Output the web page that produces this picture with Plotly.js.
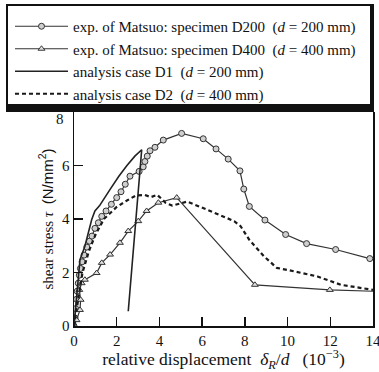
<!DOCTYPE html>
<html><head><meta charset="utf-8">
<script src="https://cdn.plot.ly/plotly-3.0.1.min.js"></script>
<style>html,body{margin:0;padding:0;background:#fff}#c{width:379px;height:372px}</style>
</head><body><div id="c"></div>
<script>
// exp. of Matsuo: specimen D200
const d200X = [0, 0.05, 0.08, 0.12, 0.15, 0.2, 0.25, 0.3, 0.38, 0.47, 0.6, 0.72, 0.84, 0.98, 1.14, 1.3, 1.5, 1.75, 2.0, 2.2, 2.4, 2.62, 3.05, 3.24, 3.32, 3.43, 3.56, 3.79, 4.18, 5.04, 6.05, 6.65, 7.22, 7.77, 7.95, 8.21, 8.94, 9.91, 10.89, 12.25, 13.85];
const d200Y = [0, 0.3, 0.65, 1.0, 1.3, 1.6, 1.9, 2.15, 2.4, 2.65, 2.95, 3.17, 3.36, 3.65, 3.86, 4.1, 4.3, 4.55, 4.8, 5.02, 5.3, 5.6, 5.78, 5.95, 6.15, 6.35, 6.55, 6.68, 6.95, 7.2, 7.0, 6.62, 6.24, 5.8, 5.12, 4.47, 3.96, 3.42, 3.08, 2.86, 2.52];
// exp. of Matsuo: specimen D400
const d400X = [0, 0.12, 0.28, 0.31, 0.25, 0.36, 0.51, 1.06, 1.3, 1.69, 2.15, 2.54, 3.01, 3.4, 3.95, 4.81, 8.47, 11.98, 14];
const d400Y = [0, 0.22, 0.6, 0.98, 1.35, 1.6, 1.73, 1.98, 2.36, 2.67, 3.11, 3.55, 3.92, 4.3, 4.61, 4.8, 1.54, 1.35, 1.3];
// analysis case D1
const d1X = [0, 0.1, 0.2, 0.28, 0.51, 0.83, 0.98, 1.2, 1.69, 2.1, 2.47, 2.85, 3.17, 2.54];
const d1Y = [0, 1.0, 1.9, 2.48, 2.98, 3.98, 4.3, 4.5, 5.11, 5.6, 5.99, 6.35, 6.59, 0.55];
// analysis case D2
const d2X = [0, 0.2, 0.4, 0.7, 1.0, 1.4, 2.0, 2.5, 2.9, 3.3, 3.6, 3.9, 4.3, 4.6, 5.3, 6.2, 6.8, 7.5, 7.8, 8.2, 8.9, 9.5, 10.1, 11.4, 12.5, 14];
const d2Y = [0, 1.0, 2.0, 2.8, 3.4, 4.0, 4.45, 4.7, 4.88, 4.9, 4.82, 4.9, 4.6, 4.5, 4.65, 4.36, 4.17, 3.92, 3.73, 3.23, 2.6, 2.17, 2.08, 1.85, 1.54, 1.35];

const names = [
  'exp. of Matsuo: specimen D200\u00a0\u00a0(<i>d</i> = 200 mm)',
  'exp. of Matsuo: specimen D400\u00a0\u00a0(<i>d</i> = 400 mm)',
  'analysis case D1\u00a0\u00a0(<i>d</i> = 200 mm)',
  'analysis case D2\u00a0\u00a0(<i>d</i> = 400 mm)'
];
const xTicks = [0, 2, 4, 6, 8, 10, 12, 14];
const yTicks = [0, 2, 4, 6, 8];

const W = 379, H = 372, ML = 74, MR = 6, MT = 112, MB = 46;
const PW = W - ML - MR, PH = H - MT - MB;
const px2x = p => (p - ML) / PW;
const px2y = p => (H - MB - p) / PH;

const lineCol = '#333';
const serif = 'Liberation Serif, Times New Roman, serif';
const topTick = yTicks[yTicks.length - 1];

const traces = [
  {x: d200X, y: d200Y, name: names[0], mode: 'lines+markers',
   line: {color: lineCol, width: 1.2},
   marker: {symbol: 'circle', size: 6, color: '#cfcfcf', line: {color: '#333', width: 1}}},
  {x: d400X, y: d400Y, name: names[1], mode: 'lines+markers',
   line: {color: lineCol, width: 1.2},
   marker: {symbol: 'triangle-up', size: 6, color: '#e0e0e0', line: {color: '#333', width: 1},
            opacity: d400X.map((v, i) => i === d400X.length - 1 ? 0 : 1)}},
  {x: d1X, y: d1Y, name: names[2], mode: 'lines',
   line: {color: '#222', width: 1.6}},
  {x: d2X, y: d2Y, name: names[3], mode: 'lines',
   line: {color: '#1a1a1a', width: 2.2, dash: '4px,3px'}}
];

const layout = {
  width: W, height: H,
  margin: {l: ML, r: MR, t: MT, b: MB, pad: 0},
  paper_bgcolor: '#fff', plot_bgcolor: '#fff',
  font: {family: serif, size: 14, color: '#111'},
  showlegend: true,
  legend: {x: px2x(10), y: px2y(10), xanchor: 'left', yanchor: 'top',
           bgcolor: 'rgba(0,0,0,0)', borderwidth: 0, itemwidth: 53,
           traceorder: 'normal',
           font: {family: serif, size: 15, color: '#111'}},
  xaxis: {range: [0, 14], tickvals: xTicks, ticktext: xTicks.map(String),
          ticks: 'inside', ticklen: 9, tickwidth: 1.5, tickcolor: '#111',
          ticklabeloverflow: 'allow',
          showline: true, linecolor: '#111', linewidth: 1.5, mirror: false,
          showgrid: false, zeroline: false,
          tickfont: {family: serif, size: 15, color: '#111'},
          title: {text: 'relative displacement\u00a0\u00a0<i>δ</i><sub><i>R</i></sub>/<i>d</i>\u00a0\u00a0\u00a0(10<sup>−3</sup>)',
                  font: {family: serif, size: 17.5, color: '#111'}, standoff: 2}},
  yaxis: {range: [0, 8], tickvals: yTicks, ticktext: yTicks.map(v => v === topTick ? '' : String(v)),
          ticks: 'inside', ticklen: 9, tickwidth: 1.5, tickcolor: '#111',
          ticklabeloverflow: 'allow',
          showline: true, linecolor: '#111', linewidth: 1.5, mirror: true,
          showgrid: false, zeroline: false,
          tickfont: {family: serif, size: 15, color: '#111'},
          title: {text: 'shear stress <i>τ</i>\u00a0\u00a0<span style="font-family:Liberation Sans, Arial, sans-serif">(N/mm<sup>2</sup>)</span>',
                  font: {family: serif, size: 15, color: '#111'}, standoff: 5}},
  annotations: [
    {xref: 'paper', yref: 'y', x: px2x(66), y: topTick - 0.27, text: String(topTick),
     showarrow: false, xanchor: 'right', yanchor: 'middle',
     font: {family: serif, size: 15, color: '#111'}}
  ],
  shapes: [
    {type: 'rect', xref: 'paper', yref: 'paper', x0: px2x(6), x1: px2x(374), y0: px2y(112), y1: px2y(4),
     fillcolor: '#111', line: {width: 0}, layer: 'below'},
    {type: 'rect', xref: 'paper', yref: 'paper', x0: px2x(8), x1: px2x(370), y0: px2y(104), y1: px2y(6),
     fillcolor: '#fff', line: {width: 0}, layer: 'below'}
  ]
};

Plotly.newPlot('c', traces, layout, {staticPlot: true, displayModeBar: false});
</script></body></html>
